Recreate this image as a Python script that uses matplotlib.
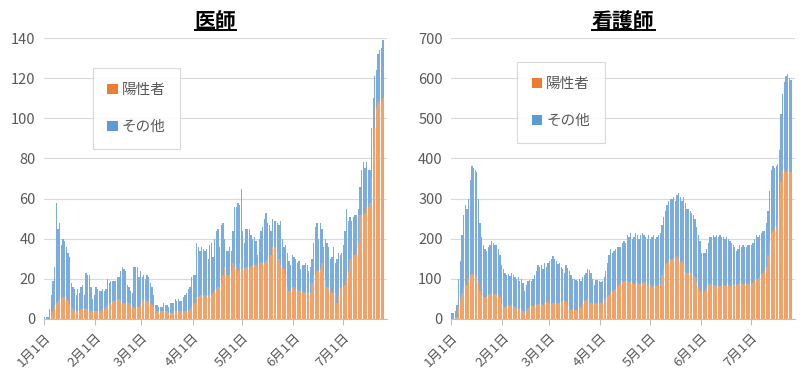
import numpy as np
import matplotlib
matplotlib.use("Agg")
import matplotlib.pyplot as plt
from matplotlib.lines import Line2D

plt.rcParams['font.family'] = ['Noto Sans CJK JP', 'DejaVu Sans']

# tick labels (month starts) and their day index from 1月1日
month_labels = ['1月1日', '2月1日', '3月1日', '4月1日', '5月1日', '6月1日', '7月1日']
month_days = [0, 31, 59, 90, 120, 151, 181]

# 医師 : total height of stacked bar and the 陽性者 part (daily)
doc_total = [1, 1,
    1, 5, 12, 19, 26, 58, 45, 48, 37, 40,
    39, 36, 33, 31, 18, 16, 15, 12, 15, 13,
    16, 17, 12, 23, 22, 22, 16, 10, 12, 16,
    15, 14, 14, 15, 14, 15, 20, 18, 19, 19,
    19, 19, 21, 21, 24, 26, 25, 24, 17, 16,
    14, 13, 26, 26, 26, 21, 24, 21, 22, 20,
    22, 21, 18, 16, 12, 7, 7, 6, 6, 6,
    8, 7, 7, 6, 8, 8, 8, 10, 9, 10,
    9, 9, 11, 12, 13, 15, 16, 21, 22, 22,
    38, 36, 34, 36, 35, 34, 35, 30, 37, 38,
    31, 40, 44, 45, 36, 47, 48, 40, 34, 34,
    36, 34, 44, 56, 56, 58, 57, 65, 44, 38,
    45, 45, 45, 42, 40, 41, 39, 32, 40, 44,
    46, 50, 53, 48, 47, 44, 50, 49, 49, 48,
    47, 49, 40, 36, 37, 33, 29, 27, 32, 31,
    30, 28, 29, 25, 27, 27, 28, 27, 24, 26,
    30, 38, 46, 48, 40, 48, 45, 36, 40, 38,
    36, 30, 31, 36, 28, 30, 33, 32, 33, 37,
    44, 55, 49, 51, 49, 51, 52, 52, 55, 66,
    74, 78, 75, 78, 74, 74, 95, 110, 121, 124,
    132, 134, 135, 139]
doc_pos = [0, 0,
    0, 0, 2, 4, 6, 8, 9, 10, 10, 11,
    11, 10, 9, 7, 6, 5, 4, 4, 4, 4,
    5, 5, 5, 5, 5, 5, 4, 4, 4, 4,
    4, 4, 4, 5, 5, 6, 8, 8, 8, 9,
    9, 9, 10, 10, 9, 8, 8, 8, 9, 8,
    7, 6, 6, 5, 6, 6, 7, 9, 10, 10,
    9, 9, 8, 7, 6, 5, 4, 4, 4, 4,
    4, 4, 4, 3, 3, 3, 4, 4, 4, 4,
    4, 4, 4, 4, 4, 4, 5, 6, 7, 8,
    11, 11, 12, 12, 12, 12, 11, 12, 13, 12,
    13, 14, 15, 16, 16, 18, 22, 26, 22, 22,
    22, 24, 28, 26, 26, 24, 28, 30, 25, 25,
    26, 26, 25, 26, 27, 27, 27, 26, 26, 28,
    28, 28, 29, 30, 28, 32, 36, 36, 36, 34,
    30, 27, 26, 25, 22, 16, 14, 14, 16, 16,
    15, 15, 14, 14, 14, 13, 14, 13, 13, 13,
    18, 22, 22, 24, 24, 25, 28, 24, 20, 16,
    16, 14, 13, 13, 13, 8, 12, 16, 16, 16,
    17, 20, 24, 30, 34, 32, 32, 33, 38, 52,
    52, 52, 53, 56, 56, 58, 70, 85, 95, 105,
    108, 108, 108, 110]

# 看護師 : total height of stacked bar and the 陽性者 part (daily)
nurse_total = [
    15, 15, 20, 35, 100, 145, 210, 260, 285, 275,
    300, 345, 380, 375, 370, 365, 300, 240, 205, 185,
    175, 170, 180, 185, 195, 190, 185, 185, 175, 160,
    135, 125, 115, 110, 112, 108, 115, 110, 105, 100,
    105, 95, 100, 90, 70, 85, 95, 97, 95, 100,
    110, 120, 135, 130, 135, 125, 140, 130, 140, 145,
    150, 158, 150, 145, 138, 140, 130, 125, 115, 135,
    128, 120, 110, 100, 100, 98, 95, 100, 95, 105,
    110, 115, 125, 122, 115, 100, 85, 97, 96, 95,
    92, 95, 105, 120, 140, 160, 175, 165, 170, 175,
    180, 178, 180, 190, 195, 190, 210, 205, 215, 200,
    205, 215, 210, 200, 210, 215, 210, 205, 200, 210,
    200, 205, 210, 200, 205, 210, 215, 235, 255, 270,
    285, 295, 300, 300, 305, 295, 310, 315, 305, 295,
    305, 290, 275, 275, 270, 265, 260, 250, 230, 210,
    195, 165, 165, 165, 175, 190, 205, 205, 210, 205,
    210, 205, 210, 205, 205, 200, 205, 200, 195, 190,
    185, 180, 170, 175, 185, 180, 185, 180, 180, 185,
    185, 185, 190, 200, 210, 205, 210, 215, 220, 220,
    240, 270, 320, 370, 380, 375, 380, 385, 420, 510,
    560, 590, 605, 610, 600, 595]
nurse_pos = [
    0, 2, 3, 5, 30, 50, 65, 80, 85, 85,
    100, 110, 112, 110, 110, 105, 90, 70, 60, 55,
    55, 55, 60, 62, 65, 63, 62, 60, 58, 55,
    40, 32, 30, 30, 33, 35, 35, 32, 30, 25,
    25, 27, 25, 20, 15, 20, 28, 33, 33, 32,
    33, 35, 38, 40, 38, 35, 40, 42, 42, 42,
    40, 40, 40, 38, 40, 40, 42, 45, 45, 42,
    35, 25, 22, 22, 22, 22, 22, 25, 30, 40,
    45, 48, 45, 42, 40, 38, 38, 40, 40, 38,
    40, 42, 45, 50, 55, 60, 65, 68, 72, 75,
    80, 85, 90, 92, 95, 95, 95, 92, 92, 90,
    88, 90, 92, 88, 85, 90, 92, 88, 85, 82,
    82, 80, 82, 82, 82, 82, 85, 110, 125, 135,
    140, 145, 148, 150, 152, 155, 158, 150, 140, 145,
    140, 120, 115, 115, 115, 115, 110, 105, 90, 80,
    70, 68, 65, 70, 75, 85, 88, 88, 85, 85,
    80, 82, 82, 85, 85, 82, 82, 85, 82, 82,
    85, 85, 85, 88, 90, 88, 88, 88, 85, 88,
    88, 88, 90, 100, 100, 100, 105, 110, 115, 120,
    130, 160, 190, 215, 220, 225, 230, 250, 300, 340,
    365, 370, 365, 370, 365, 365]

ORANGE = '#F4A167'
BLUE = '#7BACDF'
GRAY = '#595959'

fig = plt.figure(figsize=(8, 3.73), dpi=100)
ax1 = fig.add_axes([0.055, 0.145, 0.429, 0.753])
ax2 = fig.add_axes([0.564, 0.145, 0.43, 0.753])


def draw_panel(ax, total, pos, ymax, ystep, title, leg_box):
    x = np.arange(len(total))
    pos = np.array(pos)
    other = np.array(total) - pos
    ax.bar(x, pos, width=0.8, color=ORANGE, linewidth=0, label='陽性者', zorder=2)
    ax.bar(x, other, bottom=pos, width=0.8, color=BLUE, linewidth=0, label='その他', zorder=2)
    ax.set_ylim(0, ymax)
    ax.set_xlim(-0.5, 207.5)
    ax.set_yticks(np.arange(0, ymax + 1, ystep))
    ax.yaxis.grid(True, color='#D9D9D9', linewidth=0.8, zorder=0)
    ax.set_axisbelow(True)
    ax.set_xticks(np.array(month_days) - 0.5)
    ax.set_xticklabels(month_labels, rotation=45, ha='right', va='top',
                       rotation_mode='anchor')
    ax.tick_params(axis='y', length=0, labelsize=10.5, labelcolor=GRAY, pad=6)
    ax.tick_params(axis='x', length=4, color='#BFBFBF', labelsize=9.5,
                   labelcolor=GRAY, pad=5)
    for s in ['top', 'right', 'left']:
        ax.spines[s].set_visible(False)
    ax.spines['bottom'].set_color('#BFBFBF')
    leg = ax.legend(loc='center', bbox_to_anchor=leg_box, frameon=True, fancybox=False,
                    edgecolor='#D0D0D0', fontsize=10.5, labelspacing=1.6,
                    handlelength=0.7, handleheight=0.7, handletextpad=0.3,
                    borderpad=1.0, borderaxespad=0, labelcolor=GRAY)
    leg.get_frame().set_linewidth(0.8)
    leg.legend_handles[0].set_color('#ED7D31')
    leg.legend_handles[1].set_color('#5B9BD5')
    t = ax.set_title(title, fontsize=15, fontweight='bold', pad=7)
    return t


t1 = draw_panel(ax1, doc_total, doc_pos, 140, 20, '医師', (0.146, 0.616, 0.248, 0.267))
t2 = draw_panel(ax2, nurse_total, nurse_pos, 700, 100, '看護師', (0.195, 0.637, 0.247, 0.267))

# underline the titles
fig.canvas.draw()
inv = fig.transFigure.inverted()
for t in (t1, t2):
    bb = t.get_window_extent()
    (x0, y0), (x1, y1) = inv.transform([[bb.x0, bb.y0], [bb.x1, bb.y1]])
    fig.add_artist(Line2D([x0, x1], [y0 + 0.006, y0 + 0.006], color='black', linewidth=1.4,
                          transform=fig.transFigure))

fig.savefig('out.png', dpi=100)
